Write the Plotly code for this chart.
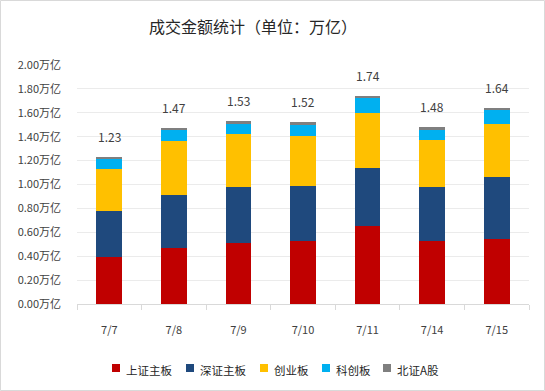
import plotly.graph_objects as go

categories = ["7/7", "7/8", "7/9", "7/10", "7/11", "7/14", "7/15"]
sh_main = [0.39, 0.47, 0.51, 0.53, 0.65, 0.53, 0.54]
sz_main = [0.39, 0.44, 0.47, 0.46, 0.49, 0.45, 0.52]
chinext = [0.35, 0.45, 0.44, 0.42, 0.46, 0.39, 0.45]
star = [0.08, 0.10, 0.09, 0.09, 0.12, 0.09, 0.11]
bse = [0.02, 0.01, 0.02, 0.02, 0.02, 0.02, 0.02]
totals = [1.23, 1.47, 1.53, 1.52, 1.74, 1.48, 1.64]
series_names = ["上证主板", "深证主板", "创业板", "科创板", "北证A股"]
colors = ["#C00000", "#1F497D", "#FFC000", "#00B0F0", "#7F7F7F"]
tick_vals = [0, 0.2, 0.4, 0.6, 0.8, 1.0, 1.2, 1.4, 1.6, 1.8, 2.0]
tick_text = ["%.2f万亿" % v for v in tick_vals]

FONT = "Noto Sans CJK SC"
W, H = 545, 391
ML, MR, MT, MB = 77, 16, 65, 87
pw = W - ML - MR
ph = H - MT - MB


def px_x(x):
    return (x - ML) / pw


def px_y(y):
    return (H - MB - y) / ph


fig = go.Figure()
for name, vals, c in zip(series_names, [sh_main, sz_main, chinext, star, bse], colors):
    fig.add_trace(go.Bar(x=categories, y=vals, name=name, marker=dict(color=c, line=dict(width=0)),
                         width=0.4, hoverinfo="y+name", showlegend=False))

for cat, t in zip(categories, totals):
    fig.add_annotation(x=cat, y=t, text="%.2f" % t, showarrow=False, yanchor="bottom",
                       yshift=10, font=dict(family=FONT, size=12, color="#404040"))

# outer border
fig.add_shape(type="rect", xref="paper", yref="paper",
              x0=px_x(0.5), x1=px_x(W - 0.5), y0=px_y(H - 0.5), y1=px_y(0.5),
              line=dict(color="#D9D9D9", width=1), fillcolor="rgba(0,0,0,0)", layer="below")

# legend (drawn manually to match compact layout)
legend_left = [112, 186, 260, 322, 383]
for name, c, lx in zip(series_names, colors, legend_left):
    fig.add_shape(type="rect", xref="paper", yref="paper",
                  x0=px_x(lx), x1=px_x(lx + 8), y0=px_y(372), y1=px_y(364),
                  line=dict(width=0), fillcolor=c)
    fig.add_annotation(xref="paper", yref="paper", x=px_x(lx + 12), y=px_y(369.5),
                       xanchor="left", yanchor="middle", text=name, showarrow=False,
                       font=dict(family=FONT, size=11.5, color="#262626"))

fig.update_layout(
    width=W, height=H,
    margin=dict(l=ML, r=MR, t=MT, b=MB, autoexpand=False),
    barmode="stack",
    plot_bgcolor="white", paper_bgcolor="white",
    font=dict(family=FONT, size=11, color="#404040"),
    title=dict(text="成交金额统计（单位：万亿）", x=253 / W, xanchor="center", xref="container",
               y=1 - 27 / H, yanchor="middle", yref="container",
               font=dict(family=FONT, size=16, color="#262626")),
    showlegend=False,
)
fig.update_yaxes(range=[0, 2.0], tickvals=tick_vals, ticktext=tick_text, showgrid=True,
                 gridcolor="#EBEBEB", gridwidth=1, zeroline=False, showline=False, ticks="",
                 ticklabelstandoff=15, tickfont=dict(family=FONT, size=11, color="#404040"))
fig.update_xaxes(type="category", showline=True, linecolor="#D9D9D9", linewidth=1,
                 ticks="outside", tickson="boundaries", ticklen=5, tickcolor="#D9D9D9",
                 ticklabelstandoff=16, tickfont=dict(family=FONT, size=11, color="#404040"))

fig.write_html("out.html", config={"displayModeBar": False},
               post_script="document.body.style.margin='0';")
